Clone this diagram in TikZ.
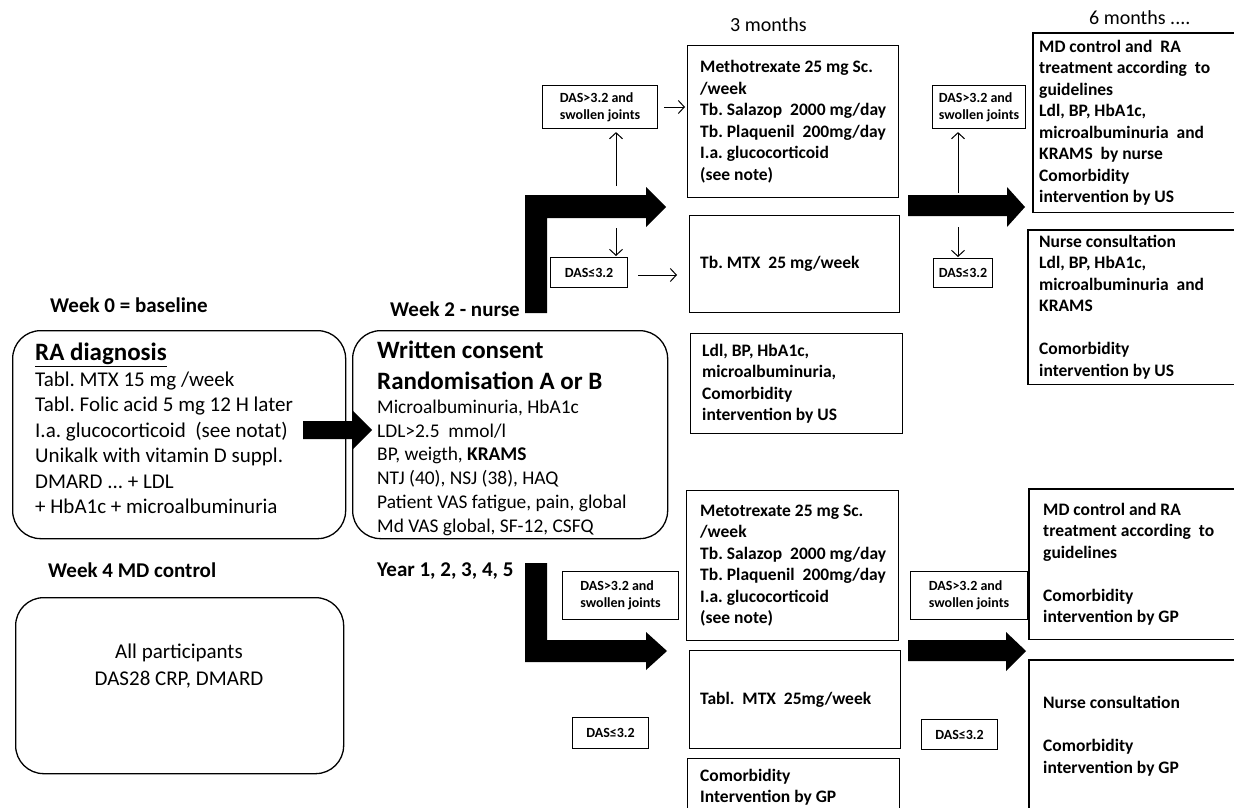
\documentclass[tikz,border=0pt]{standalone}
\usepackage{fontspec}
\setmainfont{Carlito}
\usetikzlibrary{arrows.meta,calc}
\frenchspacing
\begin{document}
\begin{tikzpicture}[x=1pt,y=-1pt,
  box/.style={draw, line width=1.3pt, anchor=north west, inner sep=0pt},
  openbox/.style={draw=none, anchor=north west, inner sep=0pt},
  rbox/.style={box, rounded corners=28pt},
  btxt/.style={anchor=west, align=left, inner sep=0pt, font=\bfseries\fontsize{17.5}{21.5}\selectfont},
  dasbox/.style={draw, line width=1.1pt, anchor=north west, inner sep=0pt, align=left, font=\bfseries\fontsize{14}{17}\selectfont},
  lbl/.style={anchor=base west, inner sep=0pt, font=\bfseries\fontsize{21}{25}\selectfont},
  toplbl/.style={anchor=base west, inner sep=0pt, font=\fontsize{20}{24}\selectfont},
  thinarr/.style={line width=1pt, -{Straight Barb[length=6pt,width=13pt]}},
  edge/.style={line width=1.3pt},
  blk/.style={fill=black}]
\useasboundingbox (0,0) rectangle (1234,808);
\fill[white] (0,0) rectangle (1234,808);

% ---- labels
\node[lbl] (w0) at (50,312) {Week 0 = baseline};
\node[lbl] (w2) at (390,316) {Week 2 - nurse};
\node[lbl] (w4) at (48,577) {Week 4 MD control};
\node[lbl] (yr) at (377,576) {Year 1, 2, 3, 4, 5};
\node[toplbl] (m3) at (730,32) {3 months};
\node[toplbl] (m6) at (1089,25) {6 months ....};

% ---- rounded boxes
\node[rbox, minimum width=333pt, minimum height=208pt] (ra) at (12,330) {};
\node[anchor=north west, align=left, inner sep=0pt, font=\fontsize{21}{25.5}\selectfont] (rat) at (35,343)
 {{\bfseries\fontsize{25}{25}\selectfont\underline{RA diagnosis}}\\
  Tabl. MTX 15 mg /week\\
  Tabl. Folic acid 5 mg 12 H later\\
  I.a. glucocorticoid~~(see notat)\\
  Unikalk with vitamin D suppl.\\
  DMARD ... + LDL\\
  + HbA1c + microalbuminuria};

\node[rbox, minimum width=315pt, minimum height=208pt] (wc) at (352,330) {};
\node[anchor=north west, align=left, inner sep=0pt, font=\fontsize{19.4}{23.8}\selectfont] (wct) at (377,341)
 {{\bfseries\fontsize{25}{31}\selectfont Written consent}\\[7pt]
  {\bfseries\fontsize{25}{31}\selectfont Randomisation A or B}\\
  Microalbuminuria, HbA1c\\
  LDL>2.5~~mmol/l\\
  BP, weigth, \textbf{KRAMS}\\
  NTJ (40), NSJ (38), HAQ\\
  Patient VAS fatigue, pain, global\\
  Md VAS global, SF-12, CSFQ};

\node[rbox, minimum width=328pt, minimum height=176pt] (all) at (15,597) {};
\node[anchor=north, align=center, inner sep=0pt, font=\fontsize{21}{26.5}\selectfont] (allt) at (179,644)
 {All participants\\DAS28 CRP, DMARD};

% ---- 3-month boxes
\node[box, minimum width=211pt, minimum height=152pt] (mtx1) at (687,45) {};
\node[btxt] (mtx1t) at ([xshift=13pt]mtx1.west) {Methotrexate 25 mg Sc.\\/week\\Tb. Salazop~~2000 mg/day\\Tb. Plaquenil~~200mg/day\\I.a. glucocorticoid\\(see note)};
\node[box, minimum width=210pt, minimum height=97pt] (mtx2) at (689,215) {};
\node[btxt] (mtx2t) at ([xshift=11pt]mtx2.west) {Tb. MTX~~25 mg/week};
\node[box, minimum width=212pt, minimum height=100pt] (ldl) at (690,333) {};
\node[btxt] (ldlt) at ([xshift=12pt]ldl.west) {Ldl, BP, HbA1c,\\microalbuminuria,\\Comorbidity\\intervention by US};
\node[box, minimum width=212pt, minimum height=150pt] (mtx3) at (686,490) {};
\node[btxt] (mtx3t) at ([xshift=14pt]mtx3.west) {Metotrexate 25 mg Sc.\\/week\\Tb. Salazop~~2000 mg/day\\Tb. Plaquenil~~200mg/day\\I.a. glucocorticoid\\(see note)};
\node[box, minimum width=211pt, minimum height=98pt] (mtx4) at (689,650) {};
\node[btxt] (mtx4t) at ([xshift=11pt]mtx4.west) {Tabl.~~MTX~~25mg/week};
\node[box, minimum width=212pt, minimum height=57pt] (com) at (687,758) {};
\node[btxt] (comt) at ([xshift=13pt]com.west) {Comorbidity\\Intervention by GP};

% ---- 6-month boxes (running off the right edge: no right side)
\node[openbox, minimum width=220pt, minimum height=179pt] (r1) at (1033,33) {};
\node[openbox, minimum width=225pt, minimum height=154pt] (r2) at (1028,230) {};
\node[openbox, minimum width=224pt, minimum height=150pt] (r3) at (1029,489) {};
\node[openbox, minimum width=224pt, minimum height=152pt] (r4) at (1029,660) {};
\foreach \b in {r1,r2,r3,r4}
  \draw[edge] (\b.north east) -- (\b.north west) -- (\b.south west) -- (\b.south east);
\node[btxt] (r1t) at ([xshift=6pt]r1.west) {MD control and~~RA\\treatment according~~to\\guidelines\\Ldl, BP, HbA1c,\\microalbuminuria~~and\\KRAMS~~by nurse\\Comorbidity\\intervention by US};
\node[btxt] (r2t) at ([xshift=11pt]r2.west) {Nurse consultation\\Ldl, BP, HbA1c,\\microalbuminuria~~and\\KRAMS\\[21.5pt]Comorbidity\\intervention by US};
\node[btxt] (r3t) at ([xshift=14pt]r3.west) {MD control and RA\\treatment according~~to\\guidelines\\[21.5pt]Comorbidity\\intervention by GP};
\node[btxt] (r4t) at ([xshift=14pt]r4.west) {Nurse consultation\\[21.5pt]Comorbidity\\intervention by GP};

% ---- DAS boxes
\node[dasbox, minimum width=115pt, minimum height=43pt] (das1) at (542,85) {DAS>3.2 and\\swollen joints};
\node[dasbox, minimum width=77pt, minimum height=30pt] (dle1) at (550,257) {DAS≤3.2};
\node[dasbox, minimum width=116pt, minimum height=48pt] (das2) at (562,571) {DAS>3.2 and\\swollen joints};
\node[dasbox, minimum width=76pt, minimum height=31pt] (dle2) at (572,717) {DAS≤3.2};
\node[dasbox, minimum width=93pt, minimum height=43pt] (das3) at (932,85) {DAS>3.2 and\\swollen joints};
\node[dasbox, minimum width=59pt, minimum height=29pt] (dle3) at (933,258) {DAS≤3.2};
\node[dasbox, minimum width=117pt, minimum height=48pt] (das4) at (910,571) {DAS>3.2 and\\swollen joints};
\node[dasbox, minimum width=76pt, minimum height=30pt] (dle4) at (921,719) {DAS≤3.2};

% ---- block arrows
\fill[blk] (303,421) -- (352,421) -- (352,410) -- (372,430) -- (352,450) -- (352,439) -- (303,439) -- cycle;
\fill[blk] (525,313) -- (525,195) -- (646,195) -- (646,187) -- (666,207) -- (646,227) -- (646,218) -- (547,218) -- (547,313) -- cycle;
\fill[blk] (525,563) -- (525,662) -- (646,662) -- (646,670) -- (667,651) -- (646,632) -- (646,640) -- (547,640) -- (547,563) -- cycle;
\fill[blk] (908,195) -- (1007,195) -- (1007,187) -- (1025,207) -- (1007,227) -- (1007,216) -- (908,216) -- cycle;
\fill[blk] (908,640) -- (1006,640) -- (1006,632) -- (1026,651) -- (1006,671) -- (1006,661) -- (908,661) -- cycle;

% ---- thin arrows
\coordinate (u1) at (616,186);
\coordinate (d1) at (616,228);
\coordinate (u3) at (958,193);
\coordinate (d3) at (958,227);
\draw[thinarr, shorten >=3pt] (u1) -- (das1.south -| u1);
\draw[thinarr, shorten >=1pt] (d1) -- (dle1.north -| d1);
\draw[thinarr, shorten <=6pt, shorten >=2pt] (das1.east |- 0,107) -- (mtx1.west |- 0,107);
\draw[thinarr, shorten <=10pt, shorten >=12pt] (dle1.east |- 0,275) -- (mtx2.west |- 0,275);
\draw[thinarr, shorten >=3pt] (u3) -- (das3.south -| u3);
\draw[thinarr, shorten >=1pt] (d3) -- (dle3.north -| d3);
\end{tikzpicture}
\end{document}
